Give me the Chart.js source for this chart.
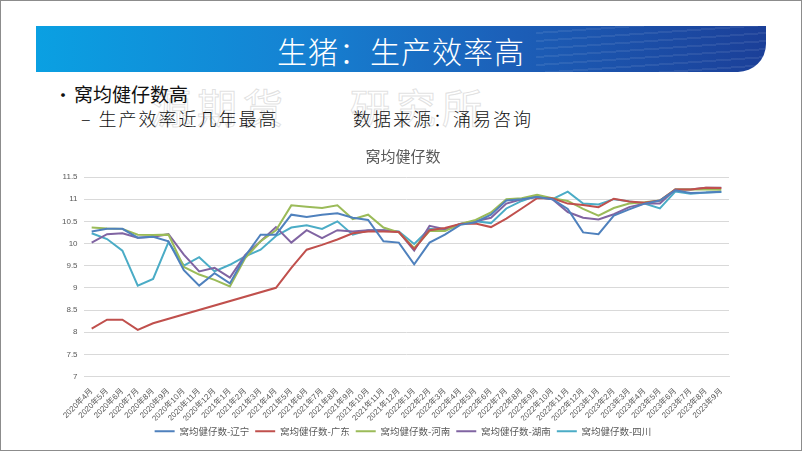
<!DOCTYPE html>
<html>
<head>
<meta charset="utf-8">
<script src="https://cdn.jsdelivr.net/npm/chart.js@4.4.0/dist/chart.umd.min.js"></script>
<style>
  html, body { margin: 0; padding: 0; background: #fff; }
  #slide { position: relative; width: 800px; height: 449px; border: 1px solid #8c8c8c; overflow: hidden;
    font-family: "Noto Sans CJK SC", "Noto Sans", sans-serif; }
  #banner { position: absolute; left: 35px; top: 25px; width: 730px; height: 46px;
    background: linear-gradient(90deg, #0aa0e2 0%, #1583d3 35%, #1c5fb8 65%, #1b3f98 100%);
    border-bottom-right-radius: 28px; overflow: hidden; }
  #stripes { position: absolute; right: 0; top: 0; width: 230px; height: 46px;
    background: repeating-linear-gradient(176deg, rgba(255,255,255,0) 0px, rgba(255,255,255,0) 6px, rgba(255,255,255,0.08) 6px, rgba(255,255,255,0.08) 8px); }
  #title { position: absolute; left: 0; right: 0; top: 2px; text-align: center; color: #fff;
    font-size: 30px; font-weight: 300; letter-spacing: 1px; }
  .txt { position: absolute; color: #111; white-space: nowrap; }
  #wm { position: absolute; left: 150px; top: 76px; font-size: 40px; color: transparent;
    -webkit-text-stroke: 1px rgba(195,195,195,0.5); letter-spacing: 6px; white-space: nowrap; }
  #chart { position: absolute; left: 30px; top: 140px; }
</style>
</head>
<body>
<div id="slide">
  <div id="banner"><div id="stripes"></div><div id="title">生猪：生产效率高</div></div>
  <div id="wm">源期货　 研究所</div>
  <div class="txt" style="left:53px; top:80px; font-size:18px;">•</div>
  <div class="txt" style="left:73px; top:79px; font-size:19px;">窝均健仔数高</div>
  <div class="txt" style="left:80px; top:104px; font-size:18px; letter-spacing:2px; font-weight:300;">– 生产效率近几年最高</div>
  <div class="txt" style="left:352px; top:104px; font-size:18px; letter-spacing:2px; font-weight:300;">数据来源：涌易咨询</div>
  <canvas id="chart" width="720" height="305"></canvas>
</div>
<script>
const months = [
  '2020年4月','2020年5月','2020年6月','2020年7月','2020年8月','2020年9月','2020年10月','2020年11月','2020年12月',
  '2021年1月','2021年2月','2021年3月','2021年4月','2021年5月','2021年6月','2021年7月','2021年8月','2021年9月',
  '2021年10月','2021年11月','2021年12月',
  '2022年1月','2022年2月','2022年3月','2022年4月','2022年5月','2022年6月','2022年7月','2022年8月','2022年9月',
  '2022年10月','2022年11月','2022年12月',
  '2023年1月','2023年2月','2023年3月','2023年4月','2023年5月','2023年6月','2023年7月','2023年8月','2023年9月'
];

const liaoning = [10.27, 10.33, 10.33, 10.13, 10.15, 10.05, 9.4, 9.05, 9.33, 9.1, 9.72, 10.2, 10.2, 10.65, 10.6, 10.65,
  10.68, 10.58, 10.53, 10.05, 10.02, 9.53, 10.02, 10.2, 10.42, 10.48, 10.65, 10.97, 11.0, 11.05, 11.0, 10.78, 10.25,
  10.21, 10.63, 10.77, 10.9, 10.97, 11.2, 11.14, 11.15, 11.17];
// 广东 has no readings between 2020年9月 and 2021年3月, the line just spans the gap
const guangdong = [8.08, 8.28, 8.28, 8.05, 8.2, null, null, null, null, null, null, null, 9.0, 9.45, 9.86, 9.97,
  10.09, 10.23, 10.27, 10.27, 10.26, 9.87, 10.3, 10.35, 10.44, 10.45, 10.37, 10.56, 10.79, 11.02, 11.02, 10.9, 10.87,
  10.82, 11.01, 10.95, 10.92, 10.97, 11.22, 11.22, 11.26, 11.25];
const henan = [10.36, 10.34, 10.33, 10.2, 10.19, 10.2, 9.47, 9.3, 9.18, 9.03, 9.67, 10.05, 10.3, 10.86, 10.83, 10.8,
  10.86, 10.55, 10.65, 10.36, 10.25, 9.9, 10.28, 10.28, 10.44, 10.53, 10.7, 11.0, 11.02, 11.1, 11.02, 10.96, 10.78,
  10.63, 10.8, 10.9, 10.93, 10.97, 11.22, 11.22, 11.22, 11.21];
const hunan = [10.02, 10.21, 10.23, 10.13, 10.15, 10.21, 9.75, 9.37, 9.45, 9.23, 9.74, 10.05, 10.37, 10.02, 10.3, 10.12,
  10.3, 10.27, 10.3, 10.3, 10.26, 9.84, 10.4, 10.32, 10.44, 10.5, 10.58, 10.9, 11.0, 11.05, 11.0, 10.71, 10.58,
  10.54, 10.66, 10.82, 10.9, 10.9, 11.22, 11.22, 11.26, 11.26];
const sichuan = [10.23, 10.1, 9.84, 9.05, 9.2, 10.03, 9.5, 9.69, 9.37, 9.52, 9.71, 9.86, 10.17, 10.36, 10.41, 10.33,
  10.5, 10.2, 10.3, 10.3, 10.27, 9.99, 10.33, 10.3, 10.44, 10.5, 10.46, 10.79, 10.96, 11.08, 11.0, 11.17, 10.9,
  10.88, 11.0, 10.95, 10.9, 10.79, 11.17, 11.12, 11.15, 11.16];

const seriesNames = ['窝均健仔数-辽宁', '窝均健仔数-广东', '窝均健仔数-河南', '窝均健仔数-湖南', '窝均健仔数-四川'];
const seriesColors = ['#4f81bd', '#c0504d', '#9bbb59', '#8064a2', '#4bacc6'];
const seriesData = [liaoning, guangdong, henan, hunan, sichuan];

const tickFont = { family: '"Liberation Sans", "Noto Sans CJK SC", sans-serif', size: 8 };

new Chart(document.getElementById('chart'), {
  type: 'line',
  data: {
    labels: months,
    datasets: seriesData.map((d, i) => ({
      label: seriesNames[i],
      data: d,
      borderColor: seriesColors[i],
      backgroundColor: seriesColors[i],
      borderWidth: 2,
      pointRadius: 0,
      tension: 0,
      spanGaps: true,
      fill: false,
    })),
  },
  options: {
    responsive: false,
    animation: false,
    // left padding keeps title and legend centred on the plot like the original
    layout: { padding: { left: 46, right: 22, top: 0, bottom: 0 } },
    plugins: {
      title: {
        display: true,
        text: '窝均健仔数',
        color: '#595959',
        font: { family: '"Noto Sans CJK SC", sans-serif', size: 15, weight: 'normal' },
        padding: { top: 6, bottom: 12 },
      },
      legend: {
        position: 'bottom',
        labels: {
          color: '#595959',
          font: { family: '"Noto Sans CJK SC", sans-serif', size: 9.5 },
          usePointStyle: true,
          pointStyle: 'line',
          pointStyleWidth: 20,
          boxHeight: 10,
          padding: 6,
        },
      },
      tooltip: { enabled: false },
    },
    scales: {
      x: {
        offset: true,
        grid: { display: false },
        border: { color: '#d9d9d9' },
        ticks: {
          autoSkip: false,
          maxRotation: 45,
          minRotation: 45,
          color: '#595959',
          font: tickFont,
          padding: 2,
        },
        afterFit: (scale) => { scale.height = 44; },
      },
      y: {
        min: 7,
        max: 11.5,
        grid: { color: '#d9d9d9', drawTicks: false },
        border: { display: false },
        ticks: {
          stepSize: 0.5,
          color: '#595959',
          font: tickFont,
          // mirrored so the labels are not clipped to the narrow axis box
          mirror: true,
          crossAlign: 'far',
          padding: -22,
          callback: (v) => String(v),
        },
        afterFit: (scale) => { scale.width = 7; },
      },
    },
  },
});
</script>
</body>
</html>
